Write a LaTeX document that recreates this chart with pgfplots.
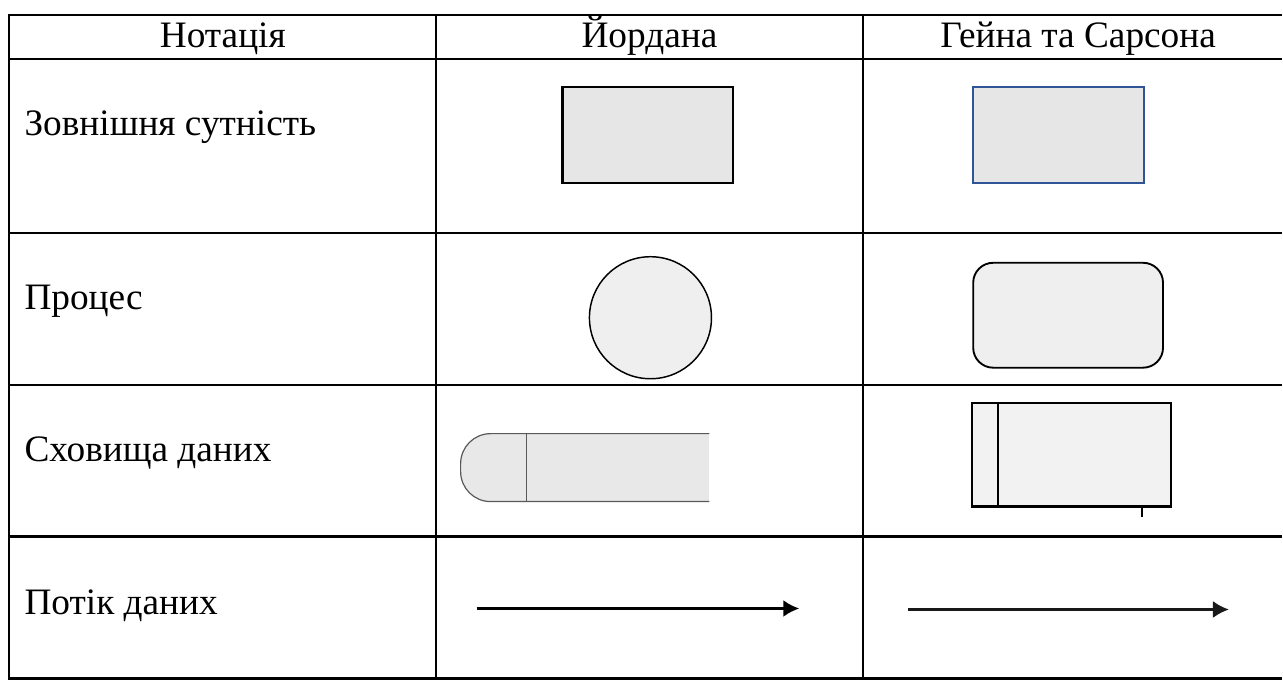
\documentclass[border=0pt]{standalone}
\usepackage{pgfplots}
\pgfplotsset{compat=1.18}
\usepackage{fontspec}
\setmainfont{Liberation Serif}
\usetikzlibrary{arrows.meta}
\definecolor{shadeA}{HTML}{E6E6E6}
\definecolor{shadeB}{HTML}{EFEFEF}
\definecolor{shadeC}{HTML}{E8E8E8}
\definecolor{shadeD}{HTML}{F2F2F2}
\definecolor{officeblue}{HTML}{2F5597}
\definecolor{edgegray}{HTML}{595959}
\begin{document}
\begin{tikzpicture}
\begin{axis}[
  scale only axis, width=481.125pt, height=255.375pt,
  xmin=0, xmax=1283, ymin=0, ymax=681, y dir=reverse,
  hide axis, clip=false,
]
\path (axis cs:0,0) rectangle (axis cs:1283,681);
% table grid
\addplot[black, line width=0.8pt] coordinates {(8.5,15) (1283,15)};
\addplot[black, line width=0.8pt] coordinates {(8.5,59) (1283,59)};
\addplot[black, line width=0.8pt] coordinates {(8.5,233) (1283,233)};
\addplot[black, line width=0.8pt] coordinates {(8.5,385) (1283,385)};
\addplot[black, line width=0.8pt] coordinates {(8.5,537) (1283,537)};
\addplot[black, line width=0.8pt] coordinates {(8.5,679) (1283,679)};
\addplot[black, line width=0.8pt] coordinates {(9,14.5) (9,679.5)};
\addplot[black, line width=0.8pt] coordinates {(436,14.5) (436,679.5)};
\addplot[black, line width=0.8pt] coordinates {(864,14.5) (864,679.5)};
% header text
\node[anchor=base, inner sep=0pt, font=\fontsize{14pt}{16pt}\selectfont] at (axis cs:223,48) {Нотація};
\node[anchor=base, inner sep=0pt, font=\fontsize{14pt}{16pt}\selectfont] at (axis cs:650,48) {Йордана};
\node[anchor=base, inner sep=0pt, font=\fontsize{14pt}{16pt}\selectfont] at (axis cs:1079,48) {Гейна та Сарсона};
% row labels
\node[anchor=base west, inner sep=0pt, font=\fontsize{14pt}{16pt}\selectfont] at (axis cs:24,136) {Зовнішня сутність};
\node[anchor=base west, inner sep=0pt, font=\fontsize{14pt}{16pt}\selectfont] at (axis cs:24,310) {Процес};
\node[anchor=base west, inner sep=0pt, font=\fontsize{14pt}{16pt}\selectfont] at (axis cs:24,462) {Сховища даних};
\node[anchor=base west, inner sep=0pt, font=\fontsize{14pt}{16pt}\selectfont] at (axis cs:24,615) {Потік даних};
% row 1: external entity
\addplot[draw=black, fill=shadeA, line width=0.8pt] coordinates {(563,87) (734,87) (734,183) (563,183)} -- cycle;
\addplot[draw=officeblue, fill=shadeA, line width=0.8pt] coordinates {(974,87) (1145,87) (1145,183) (974,183)} -- cycle;
% row 2: process
\draw[black, fill=shadeB, line width=0.55pt] (axis cs:651,318) circle[radius=22.9pt];
\draw[black, fill=shadeB, line width=0.7pt, rounded corners=7.5pt] (axis cs:974,263) rectangle (axis cs:1164,368);
% row 3: data store (Yourdon)
\fill[shadeC, rounded corners=11.25pt] (axis cs:461,434) rectangle (axis cs:600,502);
\fill[shadeC] (axis cs:520,434) rectangle (axis cs:710,502);
\draw[edgegray, line width=0.45pt, rounded corners=11.25pt] (axis cs:710,434) -- (axis cs:461,434) -- (axis cs:461,502) -- (axis cs:710,502);
\draw[edgegray, line width=0.45pt] (axis cs:527,434) -- (axis cs:527,502);
% row 3: data store (Gane-Sarson)
\draw[black, fill=shadeD, line width=0.65pt] (axis cs:973,403) rectangle (axis cs:1172,507);
\draw[black, line width=1.1pt] (axis cs:972.3,507) -- (axis cs:1172.7,507);
\draw[black, line width=0.6pt] (axis cs:999,403) -- (axis cs:999,507);
\draw[black, line width=0.6pt] (axis cs:1143,507) -- (axis cs:1143,517);
% row 4: data flow
\draw[black, line width=1.15pt, -{Latex[length=6pt,width=6.4pt]}] (axis cs:477,609) -- (axis cs:800,609);
\draw[black!90, line width=1pt, -{Latex[length=6pt,width=6.4pt]}] (axis cs:909,610) -- (axis cs:1230,610);
\end{axis}
\end{tikzpicture}
\end{document}
